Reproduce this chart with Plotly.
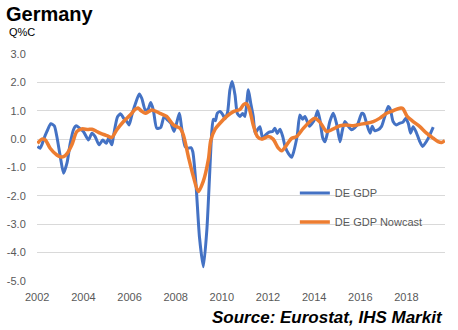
import plotly.graph_objects as go

# DE GDP (q/q %); x in decimal years
gdp_t = [2002.01, 2002.13, 2002.20, 2002.27, 2002.42, 2002.59, 2002.74, 2002.85, 2003.00, 2003.14,
         2003.29, 2003.43, 2003.57, 2003.69, 2003.83, 2004.00, 2004.22, 2004.37, 2004.51, 2004.68,
         2004.84, 2004.99, 2005.09, 2005.23, 2005.30, 2005.48, 2005.62, 2005.74, 2005.88, 2005.98,
         2006.10, 2006.24, 2006.42, 2006.53, 2006.68, 2006.80, 2006.92, 2007.03, 2007.18, 2007.35,
         2007.50, 2007.64, 2007.79, 2007.93, 2008.16, 2008.26, 2008.41, 2008.55, 2008.66, 2008.74,
         2008.88, 2009.03, 2009.20, 2009.35, 2009.46, 2009.56, 2009.63, 2009.72, 2009.80, 2009.92,
         2010.05, 2010.14, 2010.25, 2010.35, 2010.45, 2010.57, 2010.67, 2010.79, 2010.90, 2011.00,
         2011.15, 2011.25, 2011.36, 2011.44, 2011.52, 2011.65, 2011.77, 2011.90, 2012.05, 2012.20,
         2012.30, 2012.40, 2012.52, 2012.64, 2012.74, 2012.88, 2013.03, 2013.17, 2013.27, 2013.38,
         2013.50, 2013.60, 2013.70, 2013.80, 2013.95, 2014.05, 2014.15, 2014.25, 2014.37, 2014.47,
         2014.57, 2014.68, 2014.83, 2014.97, 2015.12, 2015.22, 2015.33, 2015.48, 2015.62, 2015.75,
         2015.90, 2016.06, 2016.15, 2016.27, 2016.42, 2016.52, 2016.62, 2016.77, 2016.92, 2017.06,
         2017.21, 2017.30, 2017.42, 2017.56, 2017.71, 2017.85, 2017.97, 2018.08, 2018.18, 2018.29,
         2018.42, 2018.58, 2018.70, 2018.85, 2018.98, 2019.16]
gdp_v = [-0.26, -0.32, -0.20, -0.03, 0.27, 0.54, 0.47, 0.09, -0.62, -1.20,
         -0.84, -0.15, 0.33, 0.47, 0.39, 0.27, -0.03, 0.21, 0.09, -0.20,
         -0.03, -0.15, 0.03, -0.20, 0.09, 0.79, 0.89, 0.74, 0.62, 0.50,
         0.85, 1.21, 1.59, 1.44, 1.03, 1.05, 1.29, 1.03, 0.38, 0.41,
         0.80, 0.68, 0.56, 0.27, 0.91, 0.38, -0.26, -0.32, -0.30, -0.44,
         -1.60, -3.45, -4.50, -3.20, -1.44, 0.21, 0.70, 0.65, 0.91, 0.97,
         0.85, 0.72, 0.95, 1.74, 2.03, 1.56, 0.91, 0.80, 0.90, 0.80,
         1.74, 1.27, 0.80, 0.21, 0.30, 0.44, 0.03, 0.15, 0.25, 0.27,
         0.38, 0.20, 0.35, 0.09, -0.26, -0.50, -0.64, -0.26, 0.15, 0.85,
         0.70, 0.80, 0.62, 0.45, 0.60, 0.75, 1.00, 0.68, 0.05, -0.09,
         0.20, 0.62, 0.91, 0.55, -0.09, 0.30, 0.62, 0.45, 0.33, 0.40,
         0.55, 0.91, 0.88, 0.56, 0.21, 0.45, 0.30, 0.33, 0.45, 0.80,
         1.15, 1.05, 0.62, 0.50, 0.56, 0.60, 0.74, 0.55, 0.21, 0.44,
         0.25, -0.09, -0.26, -0.10, 0.09, 0.42]

# DE GDP Nowcast
now_t = [2002.01, 2002.20, 2002.35, 2002.56, 2002.85, 2003.00, 2003.14, 2003.30, 2003.50, 2003.72,
         2003.93, 2004.20, 2004.37, 2004.58, 2004.73, 2005.02, 2005.23, 2005.45, 2005.74, 2006.03,
         2006.24, 2006.37, 2006.50, 2006.68, 2006.97, 2007.32, 2007.61, 2007.90, 2008.19, 2008.33,
         2008.55, 2008.77, 2008.98, 2009.19, 2009.42, 2009.52, 2009.71, 2009.92, 2010.21, 2010.50,
         2010.79, 2010.93, 2011.05, 2011.18, 2011.36, 2011.54, 2011.73, 2012.01, 2012.22, 2012.45,
         2012.59, 2012.81, 2013.03, 2013.24, 2013.53, 2013.82, 2014.03, 2014.25, 2014.54, 2014.81,
         2015.12, 2015.40, 2015.69, 2015.98, 2016.27, 2016.56, 2016.85, 2017.14, 2017.42, 2017.71,
         2017.84, 2018.03, 2018.29, 2018.58, 2018.87, 2019.16, 2019.37, 2019.52, 2019.66]
now_v = [-0.15, 0.00, -0.03, -0.32, -0.56, -0.62, -0.62, -0.50, -0.20, 0.27,
         0.36, 0.34, 0.35, 0.27, 0.21, 0.12, 0.06, 0.33, 0.62, 0.85,
         1.05, 1.10, 1.00, 0.91, 1.03, 0.91, 0.80, 0.50, 0.38, 0.15,
         -0.62, -1.33, -1.85, -1.50, -0.70, -0.05, 0.35, 0.56, 0.80, 0.97,
         1.05, 1.21, 1.25, 1.10, 0.50, 0.09, 0.00, 0.09, 0.00, -0.32,
         -0.41, -0.20, 0.03, 0.09, 0.38, 0.62, 0.74, 0.60, 0.27, 0.35,
         0.47, 0.50, 0.47, 0.52, 0.56, 0.62, 0.74, 0.91, 1.00, 1.09,
         1.08, 0.80, 0.62, 0.44, 0.21, 0.03, -0.09, -0.12, -0.05]

x_ticks = [2002, 2004, 2006, 2008, 2010, 2012, 2014, 2016, 2018]
y_ticks = [3, 2, 1, 0, -1, -2, -3, -4, -5]

FONT = "Liberation Sans, Arial, sans-serif"
GREY = "#595959"

fig = go.Figure()
fig.add_trace(go.Scatter(x=gdp_t, y=gdp_v, mode="lines", name="DE GDP",
                         line=dict(color="#4472C4", width=3, shape="spline", smoothing=0.6),
                         legendgroup="a"))
fig.add_trace(go.Scatter(x=now_t, y=now_v, mode="lines", name="DE GDP Nowcast",
                         line=dict(color="#ED7D31", width=3.5, shape="spline", smoothing=0.8),
                         legendgroup="b"))

fig.update_layout(
    width=458, height=330,
    margin=dict(l=37, r=13, t=54, b=49, autoexpand=False),
    paper_bgcolor="white", plot_bgcolor="white",
    font=dict(family=FONT, size=11, color=GREY),
    showlegend=True,
    legend=dict(x=0.632, y=0.452, xanchor="left", yanchor="top",
                bgcolor="rgba(0,0,0,0)", font=dict(size=11, color=GREY),
                tracegroupgap=10, itemwidth=30),
    xaxis=dict(range=[2001.99, 2019.67], tickmode="array", tickvals=x_ticks,
               ticktext=[str(v) for v in x_ticks], showgrid=False, zeroline=False,
               showline=False, ticks="outside", ticklen=6, tickcolor="rgba(0,0,0,0)",
               tickfont=dict(size=11, color=GREY), automargin=False),
    yaxis=dict(range=[-5, 3], tickmode="array", tickvals=y_ticks,
               ticktext=[f"{v:.1f}" for v in y_ticks], showgrid=True,
               gridcolor="#d9d9d9", gridwidth=1, zeroline=False, showline=False,
               ticks="outside", ticklen=8, tickcolor="rgba(0,0,0,0)",
               tickfont=dict(size=11, color=GREY), automargin=False),
    annotations=[
        dict(text="<b>Germany</b>", xref="paper", yref="paper", x=-0.081, y=1.176,
             xanchor="left", yanchor="middle", showarrow=False,
             font=dict(size=20, color="black", family=FONT)),
        dict(text="Q%C", xref="paper", yref="paper", x=-0.073, y=1.097,
             xanchor="left", yanchor="middle", showarrow=False,
             font=dict(size=11, color="black", family=FONT)),
        dict(text="<b><i>Source: Eurostat, IHS Markit</i></b>", xref="paper", yref="paper",
             x=1.0, y=-0.16, xanchor="right", yanchor="middle", showarrow=False,
             font=dict(size=17, color="black", family=FONT)),
    ],
)

fig.write_html("out.html")
